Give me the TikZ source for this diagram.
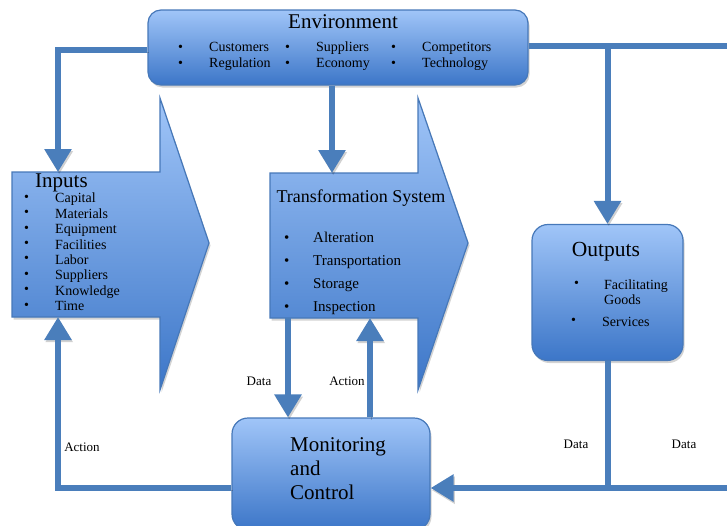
\documentclass[tikz,border=0pt]{standalone}
\usepackage{fontspec}
\setmainfont{Liberation Serif}
\usetikzlibrary{arrows.meta,shadows}
\definecolor{ln}{RGB}{74,126,187}
\definecolor{topc}{RGB}{160,197,248}
\definecolor{botc}{RGB}{60,118,200}
\definecolor{bord}{RGB}{70,120,185}
\tikzset{
  sh/.style={drop shadow={shadow xshift=1.5pt,shadow yshift=-2.5pt,opacity=.35}},
  box/.style={draw=bord, line width=1.2pt, rounded corners=13pt, top color=topc, bottom color=botc, sh},
  bigarrow/.style={draw=bord, line width=1.2pt, top color=topc, bottom color=botc, sh},
  conn/.style={draw=ln, line width=6pt, preaction={draw=black, opacity=.18, transform canvas={xshift=1.2pt,yshift=-2.2pt}}},
  arr/.style={conn, -{Triangle[width=26pt,length=23pt]}},
  lbl/.style={font=\fontsize{13}{15}\selectfont, inner sep=0pt},
  ttl/.style={font=\fontsize{21}{24}\selectfont, inner sep=0pt},
  itm/.style={font=\fontsize{14}{16}\selectfont, inner sep=0pt, anchor=west, align=left},
}
\begin{document}
\begin{tikzpicture}[x=1pt,y=-1pt]
\useasboundingbox (0,0) rectangle (727,525);
\clip (0,0) rectangle (727,525);

% big arrow shapes
\path[bigarrow] (12,172) -- (160,172) -- (160,98) -- (209,243) -- (160,390) -- (160,317) -- (12,317) -- cycle;
\path[bigarrow] (270,173) -- (418,173) -- (418,98) -- (468,243) -- (418,390) -- (418,318) -- (270,318) -- cycle;
\coordinate (inTop) at (58,172);
\coordinate (inBot) at (58,317);
\coordinate (trTop) at (332,173);
\coordinate (trBotL) at (288,318);
\coordinate (trBotR) at (370,318);

% boxes
\node[box, minimum width=380pt, minimum height=75pt] (env) at (338,47.5) {};
\node[box, rounded corners=16pt, minimum width=151pt, minimum height=136pt] (out) at (607.5,292.5) {};
\node[box, rounded corners=16pt, minimum width=198pt, minimum height=112pt] (mon) at (331,474) {};

% connector end points
\coordinate (rEnd) at (735,46);
\coordinate (bEnd) at (735,488);

% connectors
\draw[arr] ([yshift=-2.5pt]env.west) -| (inTop);
\draw[conn] ([yshift=1.5pt]env.east) -- (rEnd);
\draw[arr] (out.north |- rEnd) -- (out.north);
\draw[arr] (env.south -| trTop) -- (trTop);
\draw[arr] (trBotL) -- (trBotL |- mon.north);
\draw[arr] (trBotR |- mon.north) -- (trBotR);
\draw[arr] (mon.west |- bEnd) -| (inBot);
\draw[conn] (out.south) -- (out.south |- bEnd);
\draw[arr] (bEnd) -- (bEnd -| mon.east);

% Environment text
\node[ttl] (envT) at (343,22) {Environment};
\node[itm, align=center] (eb1) at (178,56) {\textbullet\\\textbullet};
\node[itm] (e1) at (209,56) {Customers\\Regulation};
\node[itm, align=center] (eb2) at (285,56) {\textbullet\\\textbullet};
\node[itm] (e2) at (316,56) {Suppliers\\Economy};
\node[itm, align=center] (eb3) at (391,56) {\textbullet\\\textbullet};
\node[itm] (e3) at (422,56) {Competitors\\Technology};

% Inputs text
\node[ttl, anchor=west] (inT) at (35,183) {Inputs};
\node[itm, font=\fontsize{14}{15.4}\selectfont] (inB) at (24,252) {\textbullet\\\textbullet\\\textbullet\\\textbullet\\\textbullet\\\textbullet\\\textbullet\\\textbullet};
\node[itm, font=\fontsize{14}{15.4}\selectfont] (inL) at (55,252) {Capital\\Materials\\Equipment\\Facilities\\Labor\\Suppliers\\Knowledge\\Time};

% Transformation text
\node[ttl, font=\fontsize{18}{20}\selectfont] (trT) at (361,198) {Transformation System};
\node[itm, font=\fontsize{15}{23}\selectfont] (trB) at (284,273.5) {\textbullet\\\textbullet\\\textbullet\\\textbullet};
\node[itm, font=\fontsize{15}{23}\selectfont] (trL) at (313,273.5) {Alteration\\Transportation\\Storage\\Inspection};

% Outputs text
\node[ttl, font=\fontsize{21.5}{24}\selectfont] (outT) at (606,251.5) {Outputs};
\node[itm] (ob1) at (574,284.5) {\textbullet};
\node[itm, font=\fontsize{14}{15}\selectfont] (o1) at (604,292) {Facilitating\\Goods};
\node[itm] (ob2) at (571,321.5) {\textbullet};
\node[itm] (o2) at (602,321.5) {Services};

% Monitoring text
\node[itm, font=\fontsize{21}{24}\selectfont] (monT) at (290,469) {Monitoring\\and\\Control};

% labels
\node[lbl] (l1) at (259,381) {Data};
\node[lbl] (l2) at (347,381) {Action};
\node[lbl] (l3) at (82,447) {Action};
\node[lbl] (l4) at (576,444) {Data};
\node[lbl] (l5) at (684,444) {Data};
\end{tikzpicture}
\end{document}
